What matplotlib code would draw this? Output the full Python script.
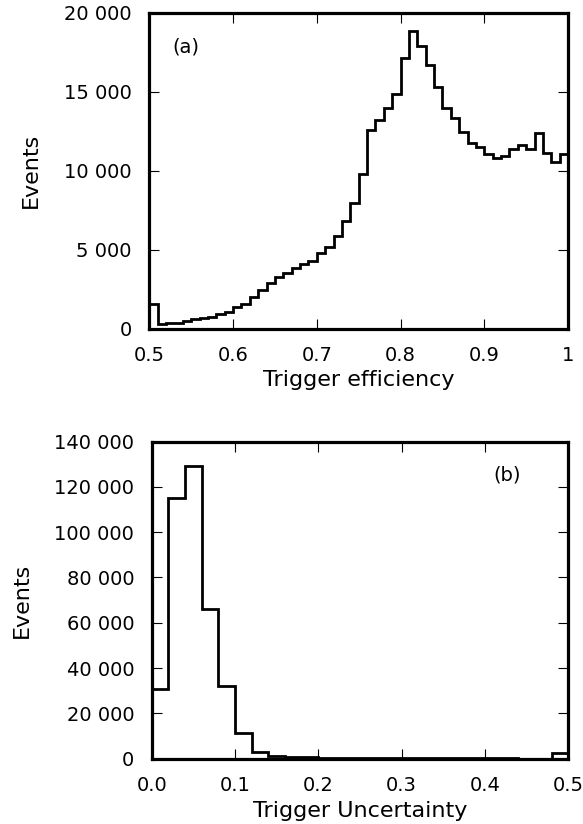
import numpy as np
import matplotlib
matplotlib.use("Agg")
import matplotlib.pyplot as plt
from matplotlib.ticker import FuncFormatter

# ---- data ----
eff_lo, eff_hi, eff_nbins = 0.5, 1.0, 50
eff_counts = [1600, 320, 360, 400, 490, 610, 680, 790, 970, 1100,
              1400, 1580, 2040, 2480, 2880, 3270, 3520, 3830, 4110, 4320,
              4820, 5200, 5900, 6830, 7940, 9800, 12600, 13210, 13950, 14890,
              17150, 18830, 17890, 16690, 15320, 13950, 13320, 12470, 11780, 11480,
              11040, 10830, 10950, 11380, 11610, 11380, 12410, 11140, 10570, 11040]

unc_lo, unc_hi, unc_nbins = 0.0, 0.5, 25
unc_counts = [30600, 115200, 129300, 66000, 32200, 11200, 2800, 1300, 900, 650,
              450, 350, 280, 220, 180, 150, 120, 100, 80, 70,
              60, 50, 40, 40, 2600]

eff_xticks = [0.5, 0.6, 0.7, 0.8, 0.9, 1.0]
eff_xticklabels = ["0.5", "0.6", "0.7", "0.8", "0.9", "1"]
eff_yticks = [0, 5000, 10000, 15000, 20000]
unc_xticks = [0.0, 0.1, 0.2, 0.3, 0.4, 0.5]
unc_xticklabels = ["0.0", "0.1", "0.2", "0.3", "0.4", "0.5"]
unc_yticks = [0, 20000, 40000, 60000, 80000, 100000, 120000, 140000]

plt.rcParams['font.family'] = ['DejaVu Sans']

fig = plt.figure(figsize=(5.83, 8.24), dpi=100)
W, H = 583, 824

def add_ax(l, r, t, b):
    return fig.add_axes([l / W, 1 - b / H, (r - l) / W, (b - t) / H])

ax1 = add_ax(149.3, 568, 12.7, 329)
ax2 = add_ax(151.7, 568.3, 441.5, 758.6)

fmt = FuncFormatter(lambda v, p: "{:,}".format(int(round(v))).replace(",", " "))

def style(ax):
    for s in ax.spines.values():
        s.set_linewidth(2.3)
    ax.tick_params(direction='in', length=7, width=0.8, top=True, right=True,
                   labelsize=14, pad=12.5)
    ax.yaxis.set_major_formatter(fmt)

edges1 = np.linspace(eff_lo, eff_hi, eff_nbins + 1)
ax1.stairs(eff_counts, edges1, color='black', linewidth=2.0, baseline=None)
ax1.set_xlim(eff_lo, eff_hi)
ax1.set_ylim(0, 20000)
ax1.set_xticks(eff_xticks)
ax1.set_xticklabels(eff_xticklabels)
ax1.set_yticks(eff_yticks)
style(ax1)
ax1.set_xlabel("Trigger efficiency", fontsize=16, labelpad=3)
ax1.set_ylabel("Events", fontsize=16, labelpad=17)
ax1.text(0.054, 0.893, "(a)", transform=ax1.transAxes, fontsize=14, va='center')

edges2 = np.linspace(unc_lo, unc_hi, unc_nbins + 1)
ax2.stairs(unc_counts, edges2, color='black', linewidth=2.0, baseline=0)
ax2.set_xlim(unc_lo, unc_hi)
ax2.set_ylim(0, 140000)
ax2.set_xticks(unc_xticks)
ax2.set_xticklabels(unc_xticklabels)
ax2.set_yticks(unc_yticks)
style(ax2)
ax2.set_xlabel("Trigger Uncertainty", fontsize=16, labelpad=4)
ax2.set_ylabel("Events", fontsize=16, labelpad=16)
ax2.text(0.819, 0.894, "(b)", transform=ax2.transAxes, fontsize=14, va='center')

fig.savefig("out.png", dpi=100)
